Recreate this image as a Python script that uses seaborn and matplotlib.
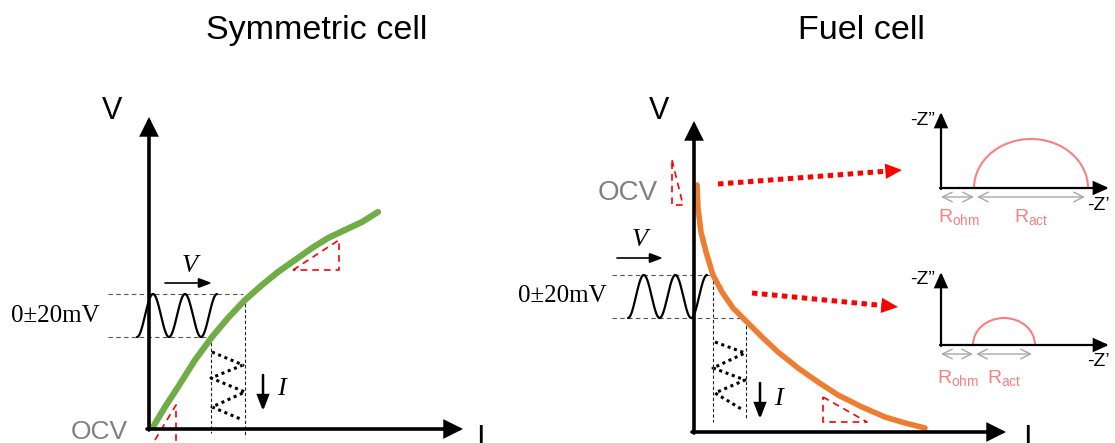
import numpy as np
import matplotlib.pyplot as plt
import seaborn as sns
from matplotlib.patches import Arc

# sketch is laid out in pixel units of the 1115x443 picture (y grows downward)

# symmetric cell V-I curve
sym_x = [153, 165, 178, 195, 212, 228, 245, 262, 278, 295, 312, 328, 345, 362, 378]
sym_y = [427, 407, 387, 360, 337, 318, 300, 285, 272, 260, 248, 238, 230, 222, 212]

# fuel cell polarisation curve
fc_x = [697, 698, 701, 706, 713, 722, 733, 747, 762, 778, 798, 818, 838, 862, 885, 905, 925]
fc_y = [185, 208, 232, 252, 275, 292, 308, 322, 337, 352, 368, 382, 395, 407, 417, 423, 428]

# current response zig-zag (dotted)
sym_zig_x = [212, 243, 211, 245, 212, 243]
sym_zig_y = [352, 365, 378, 392, 407, 420]
fc_zig_x = [715, 745, 713, 745, 715, 743]
fc_zig_y = [342, 353, 368, 380, 393, 410]

# Nyquist sketches: ohmic / activation resistance and arc height
nyq_rohm = [33, 32]
nyq_ract = [114, 62]
nyq_peak = [49, 27]

titles = ["Symmetric cell", "Fuel cell"]

sns.set_theme(style="white")
plt.rcParams['font.family'] = ['Liberation Sans', 'DejaVu Sans']
plt.rcParams['text.color'] = 'black'
plt.rcParams['mathtext.fontset'] = 'custom'
plt.rcParams['mathtext.rm'] = 'Liberation Sans'

fig = plt.figure(figsize=(11.15, 4.43), dpi=100)
ax = fig.add_axes([0, 0, 1, 1])
ax.set_xlim(0, 1115)
ax.set_ylim(443, 0)
ax.axis('off')

SERIF = ['Liberation Serif', 'DejaVu Serif']
RED = '#FF0000'
PINK = '#F88080'
GREY = '#A8A8A8'


def arrow(x0, y0, x1, y1, lw, hw, hl, color='black', style='-|>'):
    ax.annotate('', xy=(x1, y1), xytext=(x0, y0),
                arrowprops=dict(arrowstyle=f'{style},head_width={hw},head_length={hl}',
                                lw=lw, color=color, shrinkA=0, shrinkB=0,
                                mutation_scale=10, joinstyle='miter'))


def red_tri(pts):
    xs = [p[0] for p in pts]
    ys = [p[1] for p in pts]
    ax.plot(xs, ys, color=RED, lw=1.2, ls=(0, (4, 3)))


def wave(x0, x1, ytop, ybot, cycles=2.5):
    # small illustrative sine glyph of the AC perturbation
    xs = np.linspace(x0, x1, 200)
    yc = (ytop + ybot) / 2
    amp = (ybot - ytop) / 2
    ys = yc + amp * np.cos(2 * np.pi * cycles * (xs - x0) / (x1 - x0))
    ax.plot(xs, ys, color='black', lw=1.6)


def red_dotted_arrow(x0, y0, x1, y1):
    d = np.array([x1 - x0, y1 - y0], dtype=float)
    d /= np.hypot(*d)
    bx, by = x1 - 16 * d[0], y1 - 16 * d[1]
    ax.plot([x0, bx], [y0, by], color=RED, lw=3.6, ls=(0, (1.1, 0.9)),
            solid_capstyle='butt', dash_capstyle='butt')
    ax.annotate('', xy=(x1, y1), xytext=(bx, by),
                arrowprops=dict(arrowstyle='-|>,head_width=0.55,head_length=1.2',
                                lw=0, color=RED, shrinkA=0, shrinkB=0, mutation_scale=10))


# titles
ax.text(317, 30, titles[0], fontsize=24.5, ha='center', va='center')
ax.text(861, 30, titles[1], fontsize=24.5, ha='center', va='center')

# ---------------- symmetric cell ----------------
arrow(149, 430, 149, 117, 2.6, 0.5, 1.0)
arrow(147, 429, 463, 429, 2.6, 0.5, 1.0)
ax.text(112, 111, "V", fontsize=22, ha='center', va='center')
ax.text(480, 424, "I", fontsize=22, ha='center', va='top')
ax.text(99, 432, "OCV", fontsize=19, color='#808080', ha='center', va='center')

# guide lines
ax.plot([108, 243], [294, 294], color='#555555', lw=0.8, ls=(0, (4, 3)))
ax.plot([108, 211], [337, 337], color='#555555', lw=0.8, ls=(0, (4, 3)))
ax.plot([211, 211], [337, 433], color='#222222', lw=0.8, ls=(0, (3, 2)))
ax.plot([245, 245], [298, 437], color='#222222', lw=0.8, ls=(0, (3, 2)))

wave(137, 217, 294, 337)
sns.lineplot(x=sym_x, y=sym_y, ax=ax, color='#70AD47', lw=4.5, sort=False,
             estimator=None, solid_joinstyle='round')
ax.plot(sym_zig_x, sym_zig_y, color='black', lw=2.2, ls=(0, (1, 1.2)))

ax.text(100, 316, "0±20mV", fontsize=18, family=SERIF, ha='right', va='center')
ax.text(190, 266, "V", fontsize=19, family=SERIF, style='italic', ha='center', va='center')
arrow(165, 283, 212, 283, 1.2, 0.3, 0.8)
arrow(263, 375, 263, 411, 1.8, 0.35, 0.9)
ax.text(281, 389, "I", fontsize=19, family=SERIF, style='italic', ha='center', va='center')

red_tri([(293, 270), (339, 240), (339, 270), (293, 270)])
red_tri([(155, 440), (176, 405), (176, 445)])

# ---------------- fuel cell ----------------
arrow(694, 433, 694, 121, 2.6, 0.5, 1.0)
arrow(692, 432, 1006, 432, 2.6, 0.5, 1.0)
ax.text(659, 111, "V", fontsize=22, ha='center', va='center')
ax.text(1027, 424, "I", fontsize=22, ha='center', va='top')
ax.text(628, 193, "OCV", fontsize=20, color='#808080', ha='center', va='center')

ax.plot([612, 713], [275, 275], color='#555555', lw=0.8, ls=(0, (4, 3)))
ax.plot([612, 746], [318, 318], color='#555555', lw=0.8, ls=(0, (4, 3)))
ax.plot([713, 713], [275, 422], color='#222222', lw=0.8, ls=(0, (3, 2)))
ax.plot([746, 746], [320, 420], color='#222222', lw=0.8, ls=(0, (3, 2)))

wave(628, 707, 275, 318)
sns.lineplot(x=fc_x, y=fc_y, ax=ax, color='#ED7D31', lw=4.0, sort=False,
             estimator=None, solid_joinstyle='round')
ax.plot(fc_zig_x, fc_zig_y, color='black', lw=2.2, ls=(0, (1, 1.2)))

ax.text(607, 296, "0±20mV", fontsize=18, family=SERIF, ha='right', va='center')
ax.text(640, 240, "V", fontsize=19, family=SERIF, style='italic', ha='center', va='center')
arrow(617, 258, 663, 258, 1.2, 0.3, 0.8)
arrow(760, 383, 760, 419, 1.8, 0.35, 0.9)
ax.text(778, 399, "I", fontsize=19, family=SERIF, style='italic', ha='center', va='center')

red_tri([(672, 160), (683, 205), (672, 205), (672, 160)])
red_tri([(823, 397), (867, 422), (823, 422), (823, 397)])

red_dotted_arrow(718, 184, 902, 170)
red_dotted_arrow(752, 293, 898, 307)

# ---------------- Nyquist sketches ----------------
nyq_x0 = 941
nyq_axis_y = [188, 345]
nyq_top_y = [112, 272]
nyq_lab_y = [217, 378]
for k in range(2):
    y0 = nyq_axis_y[k]
    arrow(nyq_x0, y0 + 1, nyq_x0, nyq_top_y[k], 1.6, 0.4, 0.9)
    arrow(nyq_x0 - 1, y0, 1109, y0, 1.6, 0.4, 0.9)
    ax.text(935, nyq_top_y[k] + 8, "-Z\u201d", fontsize=14, ha='right', va='center')
    ax.text(1098, y0 + 17, "-Z\u2019", fontsize=14, ha='center', va='center')

    r1 = nyq_rohm[k]
    r2 = nyq_ract[k]
    arc = Arc((nyq_x0 + r1 + r2 / 2, y0), r2, 2 * nyq_peak[k], theta1=180, theta2=360,
              color=PINK, lw=1.5)
    ax.add_patch(arc)

    ya = y0 + 9
    ax.annotate('', xy=(nyq_x0 + r1, ya), xytext=(nyq_x0, ya),
                arrowprops=dict(arrowstyle='<->,head_width=0.35,head_length=0.7',
                                color=GREY, lw=1.0, shrinkA=0, shrinkB=0, mutation_scale=10))
    ax.annotate('', xy=(nyq_x0 + r1 + r2 - 3, ya), xytext=(nyq_x0 + r1 + 3, ya),
                arrowprops=dict(arrowstyle='<->,head_width=0.35,head_length=0.7',
                                color=GREY, lw=1.0, shrinkA=0, shrinkB=0, mutation_scale=10))
    ax.text(nyq_x0 + r1 / 2 + 1, nyq_lab_y[k], r"$\mathrm{R_{ohm}}$", fontsize=14,
            color=PINK, ha='center', va='center')
    ax.text(nyq_x0 + r1 + r2 / 2, nyq_lab_y[k], r"$\mathrm{R_{act}}$", fontsize=14,
            color=PINK, ha='center', va='center')

fig.savefig('out.png', dpi=100)
